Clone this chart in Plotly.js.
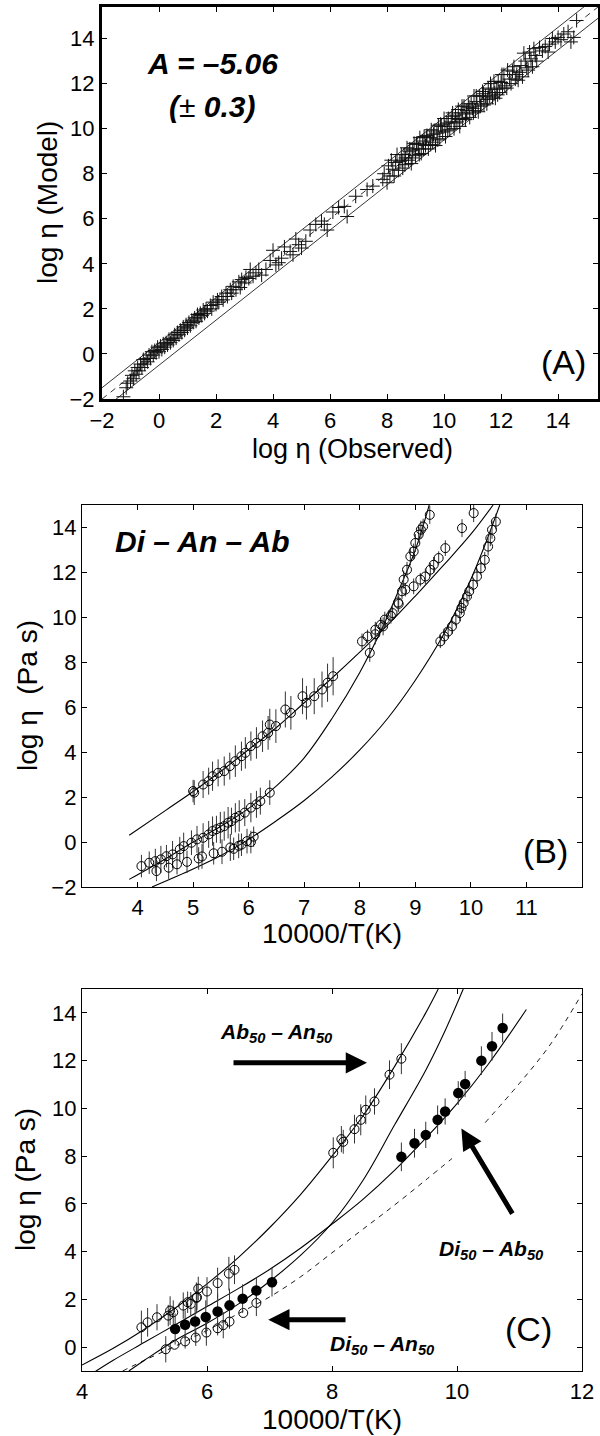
<!DOCTYPE html>
<html><head><meta charset="utf-8">
<script src="https://cdn.plot.ly/plotly-3.0.1.min.js"></script>
<style>body{margin:0;background:#fff}#chart{width:600px;height:1436px}</style>
</head><body><div id="chart"></div>
<script>
// ---------------- Panel A data (log eta observed vs model) ----------------
const obsLow = [-1.25,-1.15,-1.1,-1.0,-0.95,-0.9,-0.85,-0.8,-0.75,-0.7,-0.65,-0.6,-0.55,-0.5,-0.45,-0.4,-0.35,-0.3,-0.25,-0.2,-0.15,-0.1,-0.05,
 0.0,0.05,0.1,0.15,0.2,0.25,0.3,0.35,0.4,0.45,0.5,0.55,0.6,0.65,0.7,0.75,0.8,0.85,0.9,0.95,1.0,1.05,1.1,1.15,1.2,1.25,1.3,1.35,1.4,1.45,1.5,1.55,1.6,1.65,1.7,
 1.8,1.85,1.9,2.0,2.05,2.1,2.2,2.25,2.35,2.4,2.5,2.55,2.6,2.7,2.8,2.85,2.9,3.0,3.05,3.15,3.2,3.3,3.4];
const modelLow = [-1.9,-1.5,-1.3,-1.2,-0.95,-1.1,-0.75,-0.9,-0.6,-0.75,-0.45,-0.6,-0.25,-0.45,-0.2,-0.35,-0.05,-0.2,0.1,-0.05,
 0.15,0.05,0.3,0.1,0.35,0.2,0.45,0.3,0.5,0.4,0.65,0.5,0.7,0.6,0.85,0.7,0.95,0.85,1.05,0.95,
 1.2,1.05,1.3,1.15,1.4,1.25,1.5,1.4,1.6,1.45,1.75,1.6,1.8,1.7,1.95,1.8,2.0,1.9,2.15,2.0,
 2.3,2.2,2.4,2.3,2.55,2.4,2.7,2.55,2.85,2.7,3.0,2.85,3.2,2.95,3.3,3.15,3.4,3.35,3.75,3.45,3.6];
const obsMid = [3.5,3.6,3.75,3.9,4.0,4.1,4.2,4.3,4.4,4.6,4.7,4.8,4.9,5.0,5.15,5.3,5.5,5.7,5.8,5.9,6.1,6.3,6.5,6.6,6.9,7.3,7.5];
const modelMid = [3.75,3.5,3.75,4.15,4.6,3.95,4.05,4.25,4.75,4.55,4.4,5.1,4.85,4.7,5.0,5.5,5.75,5.9,5.75,5.5,6.3,6.5,6.55,6.1,7.0,7.3,7.45];
const obsHigh = [7.85,7.9,8.0,8.05,8.1,8.15,8.2,8.25,8.3,8.35,8.4,8.45,8.5,8.55,8.6,8.65,8.7,8.75,8.8,8.85,8.9,8.95,9.0,9.05,9.1,9.15,9.2,9.25,9.3,9.35,9.4,9.45,9.5,9.55,9.6,9.65,9.7,9.75,9.8,9.85,9.9,9.95,
 10.0,10.05,10.1,10.15,10.2,10.25,10.3,10.35,10.4,10.45,10.5,10.55,10.6,10.65,10.7,10.75,10.8,10.85,10.9,10.95,11.0,11.05,11.1,11.15,11.2,11.25,11.3,11.35,11.4,11.45,11.5,11.55,11.6,11.65,11.7,11.75,11.8,11.85,11.9,11.95,
 12.0,12.05,12.1,12.2,12.3,12.4,12.5,12.6,12.7,12.8,12.9,13.0,13.1,13.2];
const modelHigh = [7.75,8.0,7.6,8.35,7.9,8.6,8.2,7.9,8.5,8.85,8.15,8.55,8.85,8.25,8.85,8.7,9.15,8.6,9.1,8.45,
 9.05,9.35,8.8,9.3,9.1,9.6,8.9,9.45,9.65,9.25,9.7,9.1,9.6,9.95,9.4,9.9,9.25,9.8,10.15,9.55,
 10.1,9.85,10.45,9.65,10.25,10.45,9.95,10.3,10.7,10.0,10.6,10.3,10.85,10.1,10.7,10.45,11.0,10.4,10.8,11.1,
 10.5,11.1,10.9,11.45,10.8,11.2,10.75,11.45,11.1,11.65,11.05,11.45,11.1,11.8,11.45,11.75,11.4,12.1,11.35,11.75,
 12.1,11.6,12.05,11.8,12.4,11.8,12.2,12.55,12.2,12.15,12.8,13.35,12.7,13.4,12.75,13.25];
const obsDense = [8.53,8.63,8.78,8.88,9.03,9.13,9.28,9.38,9.53,9.63,9.78,9.88,10.03,10.13,10.28,10.38,10.53,10.63,10.78,10.88,11.03,11.13,11.28,11.38,11.53,11.63,11.78,11.88,12.03,12.13,12.23,12.35,12.45,12.55,12.65,12.75,12.85,12.95,13.05,13.15,13.25,13.35];
const modelDense = [8.6,8.4,9.0,8.7,9.35,8.85,9.1,9.6,9.3,9.75,9.5,10.2,10.1,9.9,10.55,10.25,10.4,11.0,10.65,10.95,10.7,11.45,11.0,11.55,11.3,12.0,11.6,11.5,12.4,11.9,12.6,12.0,12.75,12.4,12.5,12.3,13.0,12.6,13.1,13.55,13.0,13.6];
const obsTop = [13.45,13.55,13.65,13.7,13.8,13.9,14.0,14.1,14.2,14.35,14.45,14.55,14.65];
const modelTop = [13.45,13.65,13.4,13.75,14.0,13.85,14.05,13.95,14.2,14.3,13.85,14.05,14.8];
// 1:1 line and +/-0.5 band
const bandX = [-2, 15.4];
const bandMid = [-2, 15.4];
const bandUp = [-1.5, 15.9];
const bandDown = [-2.5, 14.9];

// ---------------- Panel B data (Di - An - Ab) ----------------
const b1x = [5.0,5.02,5.18,5.28,5.35,5.45,5.56,5.66,5.76,5.87,5.94,6.04,6.14,6.25,6.35,6.38,6.49,6.66,6.76,6.97,7.04,7.18,7.32,7.42,7.52,
 8.04,8.14,8.28,8.38,8.45,8.59,8.7,8.82,8.97,9.09,9.18,9.27,9.33,9.42,9.54,9.84,10.05];
const b1y = [2.27,2.2,2.56,2.71,2.93,3.08,3.16,3.38,3.6,3.82,3.97,4.27,4.41,4.71,4.86,5.23,5.16,5.9,5.75,6.49,6.2,6.49,6.79,7.09,7.38,
 8.93,9.15,9.45,9.67,9.9,10.19,10.6,11.23,11.38,11.68,11.82,12.12,12.34,12.64,13.08,13.97,14.64];
const b1e = [0.5,0.55,0.6,0.6,0.65,0.6,0.65,0.6,0.7,0.65,0.7,0.65,0.7,0.7,0.75,0.7,0.75,0.8,0.75,0.8,0.75,0.8,0.8,0.85,0.85,
 0.35,0.3,0.35,0.3,0.35,0.3,0.35,0.3,0.35,0.3,0.35,0.3,0.35,0.3,0.35,0.4,0.4];
const b2x = [4.07,4.21,4.32,4.42,4.52,4.63,4.76,4.83,4.97,5.07,5.18,5.28,5.35,5.42,5.49,5.56,5.63,5.69,5.76,5.83,5.93,6.04,6.14,6.21,6.38,
 8.18,8.28,8.42,8.56,8.69,8.76,8.79,8.85,8.91,8.97,9.0,9.06,9.1,9.14,9.26];
const b2y = [-1.07,-0.92,-0.85,-0.77,-0.63,-0.55,-0.32,-0.18,-0.03,0.12,0.19,0.34,0.49,0.57,0.64,0.71,0.86,0.93,1.08,1.16,1.31,1.53,1.68,1.82,2.2,
 8.42,9.25,9.6,10.07,10.66,11.16,11.68,12.12,12.71,12.93,13.31,13.68,13.9,14.04,14.56];
const b2e = [0.5,0.5,0.55,0.6,0.5,0.6,0.55,0.6,0.55,0.6,0.65,0.6,0.65,0.6,0.7,0.65,0.7,0.6,0.65,0.7,0.6,0.65,0.6,0.6,0.55,
 0.4,0.45,0.4,0.35,0.4,0.35,0.4,0.35,0.4,0.35,0.4,0.35,0.4,0.35,0.4];
const b3x = [4.34,4.56,4.71,4.89,5.1,5.16,5.37,5.52,5.67,5.73,5.82,5.87,5.97,6.04,6.09,
 9.45,9.52,9.59,9.66,9.73,9.8,9.83,9.87,9.93,9.97,10.04,10.11,10.18,10.25,10.31,10.35,10.38,10.45];
const b3y = [-1.29,-1.14,-0.99,-0.88,-0.73,-0.64,-0.5,-0.43,-0.24,-0.3,-0.17,-0.12,0.04,0.0,0.24,
 8.93,9.15,9.37,9.6,9.9,10.19,10.42,10.64,10.93,11.16,11.45,11.82,12.19,12.56,13.15,13.52,13.9,14.26];
const b3e = [0.45,0.5,0.45,0.5,0.5,0.55,0.5,0.55,0.6,0.5,0.55,0.5,0.55,0.5,0.45,
 0.3,0.35,0.3,0.35,0.3,0.35,0.3,0.35,0.3,0.35,0.3,0.35,0.3,0.35,0.4,0.35,0.4,0.35];
// fitted curves
const fit1x = [3.85,4.5,5.0,5.5,6.0,6.5,7.0,7.5,8.0,8.5,9.0,9.5,10.0,10.4];
const fit1y = [0.3,1.4,2.25,3.15,4.12,5.1,6.2,7.3,8.45,9.65,10.95,12.3,13.7,15.0];
const fit2x = [3.85,4.5,5.0,5.5,6.0,6.5,7.0,7.5,8.0,8.4,8.7,9.0,9.25];
const fit2y = [-1.66,-0.75,0.0,0.7,1.5,2.5,3.75,5.5,7.55,9.5,11.2,13.0,15.0];
const fit3x = [4.26,5.0,5.5,6.0,6.5,7.0,7.5,8.0,8.5,9.0,9.5,10.0,10.25,10.52];
const fit3y = [-2.0,-1.2,-0.6,0.12,0.95,1.85,2.9,4.1,5.5,7.2,9.2,11.7,13.2,15.0];

// ---------------- Panel C data (binary joins) ----------------
const cax = [4.95,5.05,5.2,5.38,5.41,5.46,5.62,5.69,5.74,5.83,5.84,5.86,6.0,6.17,6.35,6.44,8.02,8.15,8.18,8.36,8.46,8.54,8.68,8.92,9.11];
const cay = [0.83,1.04,1.25,1.32,1.53,1.46,1.74,1.88,1.81,2.06,2.09,2.45,2.33,2.68,3.08,3.24,8.14,8.71,8.6,9.13,9.52,9.94,10.29,11.41,12.08];
const cae = [0.7,0.6,0.55,0.45,0.6,0.5,0.55,0.45,0.5,0.65,0.55,0.5,0.6,0.65,0.7,0.6,0.65,0.55,0.5,0.6,0.65,0.6,0.55,0.6,0.65];
const cbx = [5.49,5.65,5.81,5.98,6.17,6.36,6.57,6.79,7.04,9.11,9.32,9.5,9.69,9.81,10.02,10.13,10.39,10.56,10.73];
const cby = [0.76,0.94,1.07,1.26,1.49,1.75,2.03,2.37,2.72,7.97,8.54,8.89,9.52,9.87,10.64,11.02,12.0,12.6,13.37];
const cbe = [0.65,0.6,0.65,0.7,0.75,0.7,0.6,0.55,0.6,0.6,0.6,0.55,0.6,0.55,0.5,0.55,0.6,0.6,0.6];
const ccx = [5.34,5.48,5.65,5.82,5.99,6.17,6.26,6.36,6.58,6.79];
const ccy = [-0.09,0.1,0.24,0.4,0.61,0.79,0.92,1.07,1.43,1.85];
const cce = [0.55,0,0.3,0.35,0.55,0.3,0.55,0.3,0,0.55];
const fitAx = [4.0,4.5,5.0,5.5,6.0,6.5,7.0,7.5,8.0,8.5,9.0,9.5,9.7];
const fitAy = [-0.75,-0.05,0.75,1.65,2.65,3.75,5.0,6.4,8.0,9.7,11.75,14.0,15.0];
const fitCx = [4.19,4.5,5.0,5.5,6.0,6.5,7.0,7.5,8.0,8.5,9.0,9.5,10.0,10.5,11.11];
const fitCy = [-1.06,-0.55,0.2,0.95,1.7,2.45,3.25,4.15,5.15,6.2,7.4,8.75,10.2,11.85,14.14];
const fitDx = [4.75,5.0,5.5,6.0,6.5,7.0,7.5,8.0,8.5,9.0,9.5,9.8,10.1];
const fitDy = [-1.0,-0.55,0.3,1.0,1.8,2.75,3.85,5.2,7.0,9.3,11.6,13.2,15.0];
const dashX = [4.65,5.0,5.5,6.0,6.5,7.0,7.5,8.0,8.5,9.0,9.5,9.92,null,10.45,11.0,11.5,12.0];
const dashY = [-1.0,-0.55,0.05,0.7,1.4,2.1,2.95,3.95,4.95,5.95,7.0,7.9,null,9.4,11.05,12.7,14.8];

// ---------------- drawing ----------------
const FONT = 'Liberation Sans, Arial, Helvetica, sans-serif';
const W = 600, H = 1436;
const px = v => v / W;
const py = v => 1 - v / H;

function axis(x0, x1, range, tickvals, lw, anchor, horizontal) {
  return {
    domain: horizontal ? [px(x0), px(x1)] : [py(x1), py(x0)],
    range: range, tickvals: tickvals, tickmode: 'array',
    showline: true, mirror: 'ticks', linecolor: '#000', linewidth: lw,
    ticks: 'inside', ticklen: 5, tickwidth: 1, tickcolor: '#000',
    showgrid: false, zeroline: false, anchor: anchor, fixedrange: true,
    tickfont: {family: FONT, size: 22, color: '#000'}
  };
}

const lineStyle = {color: '#000', width: 1.1};
const traces = [];
// Panel A
traces.push({x: bandX, y: bandUp, mode: 'lines', line: {color: '#000', width: 0.8}, xaxis: 'x', yaxis: 'y', hoverinfo: 'skip'});
traces.push({x: bandX, y: bandDown, mode: 'lines', line: {color: '#000', width: 0.8}, xaxis: 'x', yaxis: 'y', hoverinfo: 'skip'});
traces.push({x: bandX, y: bandMid, mode: 'lines', line: {color: '#000', width: 0.8, dash: '6px,5px'}, xaxis: 'x', yaxis: 'y', hoverinfo: 'skip'});
traces.push({
  x: [].concat(obsLow, obsMid, obsHigh, obsDense, obsTop),
  y: [].concat(modelLow, modelMid, modelHigh, modelDense, modelTop),
  mode: 'markers', xaxis: 'x', yaxis: 'y',
  marker: {symbol: 'cross-thin-open', size: 10, color: '#111', line: {color: '#111', width: 1}}
});
// Panel B
[[fit1x, fit1y], [fit2x, fit2y], [fit3x, fit3y]].forEach(([x, y]) => traces.push({
  x: x, y: y, mode: 'lines', line: Object.assign({shape: 'spline', smoothing: 1}, lineStyle), xaxis: 'x2', yaxis: 'y2'}));
[[b1x, b1y, b1e], [b2x, b2y, b2e], [b3x, b3y, b3e]].forEach(([x, y, e]) => traces.push({
  x: x, y: y, mode: 'markers', xaxis: 'x2', yaxis: 'y2',
  error_y: {type: 'data', array: e, visible: true, color: '#333', thickness: 1, width: 0},
  marker: {symbol: 'circle-open', size: 9, color: '#000', line: {width: 1, color: '#000'}}
}));
// Panel C
[[fitAx, fitAy], [fitCx, fitCy], [fitDx, fitDy]].forEach(([x, y]) => traces.push({
  x: x, y: y, mode: 'lines', line: Object.assign({shape: 'spline', smoothing: 1}, lineStyle), xaxis: 'x3', yaxis: 'y3'}));
traces.push({x: dashX, y: dashY, mode: 'lines', connectgaps: false,
  line: {color: '#000', width: 0.9, dash: '5px,5px', shape: 'spline'}, xaxis: 'x3', yaxis: 'y3'});
traces.push({x: cax, y: cay, mode: 'markers', xaxis: 'x3', yaxis: 'y3',
  error_y: {type: 'data', array: cae, visible: true, color: '#333', thickness: 1, width: 0},
  marker: {symbol: 'circle-open', size: 9, color: '#000', line: {width: 1, color: '#000'}}});
traces.push({x: ccx, y: ccy, mode: 'markers', xaxis: 'x3', yaxis: 'y3',
  error_y: {type: 'data', array: cce, visible: true, color: '#333', thickness: 1, width: 0},
  marker: {symbol: 'circle-open', size: 9, color: '#000', line: {width: 1, color: '#000'}}});
traces.push({x: cbx, y: cby, mode: 'markers', xaxis: 'x3', yaxis: 'y3',
  error_y: {type: 'data', array: cbe, visible: true, color: '#333', thickness: 1, width: 0},
  marker: {symbol: 'circle', size: 10.5, color: '#000', line: {width: 0}}});

const bi = {family: FONT, color: '#000', weight: 'bold', style: 'italic'};
function txt(x, y, text, size, extra) {
  return Object.assign({xref: 'paper', yref: 'paper', x: px(x), y: py(y), text: text, showarrow: false,
    xanchor: 'center', yanchor: 'middle', font: {family: FONT, size: size, color: '#000'}}, extra || {});
}
function arrow(x, y, ax, ay) {
  return {xref: 'x3', yref: 'y3', axref: 'x3', ayref: 'y3', x: x, y: y, ax: ax, ay: ay, text: '',
    showarrow: true, arrowhead: 2, arrowsize: 0.85, arrowwidth: 5, arrowcolor: '#000', standoff: 0, startstandoff: 0};
}

const annotations = [
  // panel A
  txt(352, 449, 'log η (Observed)', 27),
  txt(48, 203, 'log η (Model)', 28, {textangle: -90}),
  txt(212, 64, 'A = –5.06', 30, {font: Object.assign({size: 30}, bi)}),
  txt(212, 107, '(<span style="font-weight:normal;font-style:normal">±</span> 0.3)', 30, {font: Object.assign({size: 30}, bi)}),
  txt(563, 362, '(A)', 34),
  // panel B
  txt(332, 934, '10000/T(K)', 28),
  txt(27, 696, 'log η \u00a0(Pa s)', 28, {textangle: -90}),
  txt(202, 541, 'Di – An – Ab', 30, {font: Object.assign({size: 30}, bi)}),
  txt(545, 851, '(B)', 34),
  // panel C
  txt(332, 1419, '10000/T(K)', 28),
  txt(25, 1180, 'log η (Pa s)', 28, {textangle: -90}),
  txt(528, 1329, '(C)', 34),
  txt(276, 1033, 'Ab<sub>50</sub> – An<sub>50</sub>', 21, {font: Object.assign({size: 21}, bi)}),
  txt(492, 1250, 'Di<sub>50</sub> – Ab<sub>50</sub>', 21, {font: Object.assign({size: 21}, bi)}),
  txt(382, 1345, 'Di<sub>50</sub> – An<sub>50</sub>', 21, {font: Object.assign({size: 21}, bi)}),
  arrow(8.56, 11.91, 6.40, 11.91),
  arrow(10.07, 9.16, 10.90, 5.53),
  arrow(6.98, 1.15, 8.24, 1.15)
];

const layout = {
  width: W, height: H, margin: {l: 0, r: 0, t: 0, b: 0},
  paper_bgcolor: '#fff', plot_bgcolor: '#fff', showlegend: false,
  font: {family: FONT, color: '#000'},
  xaxis: axis(102, 598, [-2, 15.4], [-2,0,2,4,6,8,10,12,14], 3, 'y', true),
  yaxis: axis(7, 399, [-2, 15.4], [-2,0,2,4,6,8,10,12,14], 3, 'x', false),
  xaxis2: axis(82, 582, [3, 12], [4,5,6,7,8,9,10,11], 1.2, 'y2', true),
  yaxis2: axis(505, 887, [-2, 15], [-2,0,2,4,6,8,10,12,14], 1.2, 'x2', false),
  xaxis3: axis(82, 582, [4, 12], [4,6,8,10,12], 1.2, 'y3', true),
  yaxis3: axis(989, 1371, [-1, 15], [0,2,4,6,8,10,12,14], 1.2, 'x3', false),
  annotations: annotations
};

Plotly.newPlot('chart', traces, layout, {staticPlot: true, displayModeBar: false});
</script>
</body></html>
